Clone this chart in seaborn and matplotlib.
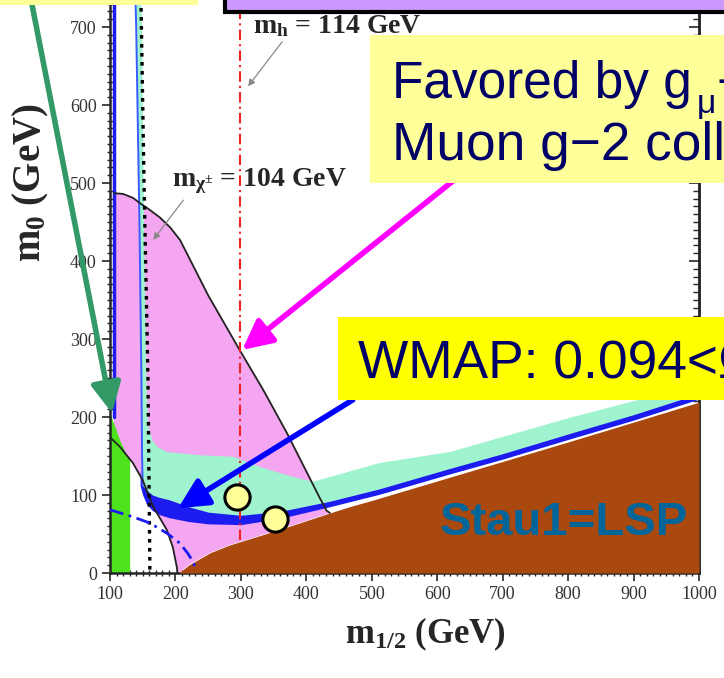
import numpy as np
import matplotlib
matplotlib.use("Agg")
import matplotlib.pyplot as plt
from matplotlib.patches import Rectangle
from matplotlib.ticker import MultipleLocator
import seaborn as sns

# boundaries, (m1/2, m0) in GeV
brown_x = [205, 220, 253, 283, 314, 360, 436, 466, 500, 604, 700, 800, 859, 1000]
brown_y = [0, 10, 26, 36, 44, 56, 77, 85, 93, 119, 143, 168, 183, 219]

pink_top_x = [106, 120, 135, 146, 160, 176, 192, 207, 250, 298, 334, 370, 405, 420, 431, 436]
pink_top_y = [487, 486, 481, 474, 466, 456, 443, 427, 356, 286, 235, 180, 122, 97, 80, 77]

llc_x = [100, 115, 135, 150, 166, 187, 196, 202, 203]
llc_y = [174, 162, 141, 119, 85, 55, 33, 8, 0]

green_x = [100, 115, 125, 130]
green_top = [205, 170, 152, 145]

tq_up_x = [137, 146, 149, 152, 156, 158, 165, 172, 187, 237, 288, 329, 360, 385, 410, 436, 512, 619, 807, 1000]
tq_up_y = [800, 800, 700, 450, 250, 190, 170, 162, 155, 151, 149, 136, 128, 122, 117, 123, 141, 155, 200, 242]

band_x = [146, 150, 156, 165, 175, 190, 220, 250, 300, 360, 436, 512, 619, 700, 807, 900, 1000]
band_top = [130, 112, 106, 100, 97, 94, 85, 78, 74, 79, 92, 108, 134, 153, 180, 203, 230]
band_bot = [112, 100, 88, 80, 75, 71, 66, 63, 62, 70, 85, 101, 127, 146, 173, 196, 223]

line_a_x = [106, 106]
line_a_y = [800, 200]
line_b_x = [137, 140, 145, 148, 149, 150]
line_b_y = [800, 700, 450, 250, 150, 112]

chg_x = [146, 148, 152, 158, 161]
chg_y = [800, 700, 500, 250, 0]

mh_x = [298, 298]
mh_y = [42, 800]

bdd_x = [100, 135, 161, 187, 207, 219, 225, 230]
bdd_y = [81, 72, 64, 51, 38, 25, 17, 8]

pts_x = [294, 352]
pts_y = [97, 69]

x_ticks = [100, 200, 300, 400, 500, 600, 700, 800, 900, 1000]
y_ticks = [0, 100, 200, 300, 400, 500, 600, 700]

PINK = "#F4A6F0"
TURQ = "#9FF3CE"
BLUE = "#1C1CF0"
BROWN = "#A9480F"
GREEN = "#4EE21C"
NAVY = "#000066"

sns.set_style("ticks")
plt.rcParams["font.family"] = ["Liberation Serif", "DejaVu Serif"]
plt.rcParams["mathtext.fontset"] = "custom"
plt.rcParams["mathtext.rm"] = "Liberation Serif"
plt.rcParams["mathtext.bf"] = "Liberation Serif:bold"
plt.rcParams["mathtext.it"] = "Liberation Serif:italic"

fig = plt.figure(figsize=(7.24, 6.78), dpi=100)
ax = fig.add_axes([110 / 724, 105 / 678, 589 / 724, 624 / 678])


def line(xs, ys, **kw):
    sns.lineplot(x=xs, y=ys, ax=ax, sort=False, estimator=None, **kw)


# pink g-2 region
pink_poly_x = pink_top_x + [436, 360, 314, 283, 253, 220, 205, 203] + llc_x[::-1][1:] + [106]
pink_poly_y = pink_top_y + [77, 56, 44, 36, 26, 10, 0, 0] + llc_y[::-1][1:] + [169]
ax.fill(pink_poly_x, pink_poly_y, color=PINK, lw=0, zorder=1)

# green b->s gamma
ax.fill_between(green_x, 0, green_top, color=GREEN, lw=0, zorder=2)

# turquoise region
band_mid = [(a + b) / 2 for a, b in zip(band_top, band_bot)]
tq_x = tq_up_x + band_x[::-1] + line_b_x[::-1]
tq_y = tq_up_y + band_mid[::-1] + line_b_y[::-1]
ax.fill(tq_x, tq_y, color=TURQ, lw=0, zorder=2)

# WMAP band
ax.fill_between(band_x, band_bot, band_top, color=BLUE, lw=0, zorder=3)
line(line_a_x, line_a_y, color=BLUE, lw=2.5, zorder=3)
line(line_b_x, line_b_y, color="#3A5CFF", lw=1.4, zorder=3)

# stau LSP
ax.fill_between(brown_x, 0, brown_y, color=BROWN, lw=0, zorder=4)

# boundary lines
line(pink_top_x, pink_top_y, color="#222222", lw=1.3, zorder=5)
line(llc_x, llc_y, color="#222222", lw=1.3, zorder=5)
line(chg_x, chg_y, color="black", lw=2.4, zorder=5, linestyle=(0, (1.1, 1.6)))
line(mh_x, mh_y, color="#EE2222", lw=1.5, zorder=5, linestyle=(0, (5, 2, 1, 2)))
line(bdd_x, bdd_y, color=BLUE, lw=2, zorder=5, linestyle=(0, (5, 2, 1, 2)))

sns.scatterplot(x=pts_x, y=pts_y, ax=ax, s=330, color="#FFFF99", edgecolor="black",
                linewidth=2.2, zorder=6)

ax.set_xlim(100, 1000)
ax.set_ylim(0, 800)
ax.set_xticks(x_ticks)
ax.set_yticks(y_ticks)
ax.xaxis.set_minor_locator(MultipleLocator(10))
ax.yaxis.set_minor_locator(MultipleLocator(10))
ax.tick_params(which="major", direction="out", length=6, width=1.2, labelsize=13,
               labelcolor="#333333")
ax.tick_params(which="minor", direction="inout", length=4, width=1)
for s in ["left", "bottom", "right", "top"]:
    ax.spines[s].set_linewidth(1.8)
    ax.spines[s].set_visible(True)

# inward ticks on the right frame
sec = ax.secondary_yaxis("right")
sec.set_yticks(y_ticks)
sec.yaxis.set_minor_locator(MultipleLocator(10))
sec.tick_params(which="major", direction="in", length=7, width=1.2, labelright=False)
sec.tick_params(which="minor", direction="in", length=4, width=1)
sec.spines["right"].set_linewidth(1.8)

ax.set_xlabel(r"$\mathbf{m_{1/2}}$ (GeV)", fontsize=25, fontweight="bold")
ax.set_ylabel(r"$\mathbf{m_0}$ (GeV)", fontsize=28, fontweight="bold")
ax.xaxis.set_label_coords(0.535, -0.068)
ax.yaxis.set_label_coords(-0.1, 0.625)

# curve labels
ax.text(318, 701, r"$\mathbf{m_h}$ = 114 GeV", fontsize=20, fontweight="bold",
        va="center", ha="left", zorder=7)
ax.text(195, 503, r"$\mathbf{m_{\chi^{\pm}}}$ = 104 GeV", fontsize=20, fontweight="bold",
        va="center", ha="left", zorder=7)
ax.annotate("", xy=(311, 624), xytext=(363, 681), zorder=7,
            arrowprops=dict(arrowstyle="-|>", color="#888888", lw=0.9, mutation_scale=10,
                            shrinkA=0, shrinkB=0))
ax.annotate("", xy=(166, 427), xytext=(212, 478), zorder=7,
            arrowprops=dict(arrowstyle="-|>", color="#888888", lw=0.9, mutation_scale=10,
                            shrinkA=0, shrinkB=0))

ax.text(604, 49, "Stau1=LSP", fontsize=34, fontweight="bold", color="#006699",
        family="Liberation Sans", va="baseline", ha="left", zorder=7)

# pointing arrows
for tip, tail, col in [((103, 205), (-19, 728), "#339966"),
                       ((302, 286), (635, 510), "#FF00FF"),
                       ((204, 83), (471, 222), "#0000FF")]:
    ax.annotate("", xy=tip, xytext=tail, annotation_clip=False, zorder=8,
                arrowprops=dict(arrowstyle="-|>", color=col, lw=4, mutation_scale=45,
                                shrinkA=0, shrinkB=0))

# slide overlays
fig.add_artist(Rectangle((-0.01, 673 / 678), 205 / 724, 0.02, transform=fig.transFigure,
                         facecolor="#FFFF99", edgecolor="none", zorder=10))
fig.add_artist(Rectangle((225 / 724, 666 / 678), 0.72, 0.05, transform=fig.transFigure,
                         facecolor="#CC99FF", edgecolor="black", lw=3, zorder=10))
fig.add_artist(Rectangle((370 / 724, 495 / 678), 0.5, 148 / 678, transform=fig.transFigure,
                         facecolor="#FFFF99", edgecolor="none", zorder=10))
fig.add_artist(Rectangle((338 / 724, 278 / 678), 0.54, 83 / 678, transform=fig.transFigure,
                         facecolor="#FFFF00", edgecolor="none", zorder=10))

fig.text(392 / 724, 580 / 678, "Favored by g", fontsize=37, color=NAVY,
         family="Liberation Sans", va="baseline", zorder=11)
fig.text(697 / 724, 565 / 678, "μ", fontsize=24, color=NAVY,
         family="Liberation Sans", va="baseline", zorder=11)
fig.text(716 / 724, 580 / 678, "−2", fontsize=37, color=NAVY,
         family="Liberation Sans", va="baseline", zorder=11)
fig.text(392 / 724, 518 / 678, "Muon g−2 collaboration", fontsize=38.3, color=NAVY,
         family="Liberation Sans", va="baseline", zorder=11)
fig.text(358 / 724, 300 / 678, "WMAP: 0.094<Ωh²<0.129", fontsize=38.3, color=NAVY,
         family="Liberation Sans", va="baseline", zorder=11)

fig.savefig("out.png", dpi=100)
